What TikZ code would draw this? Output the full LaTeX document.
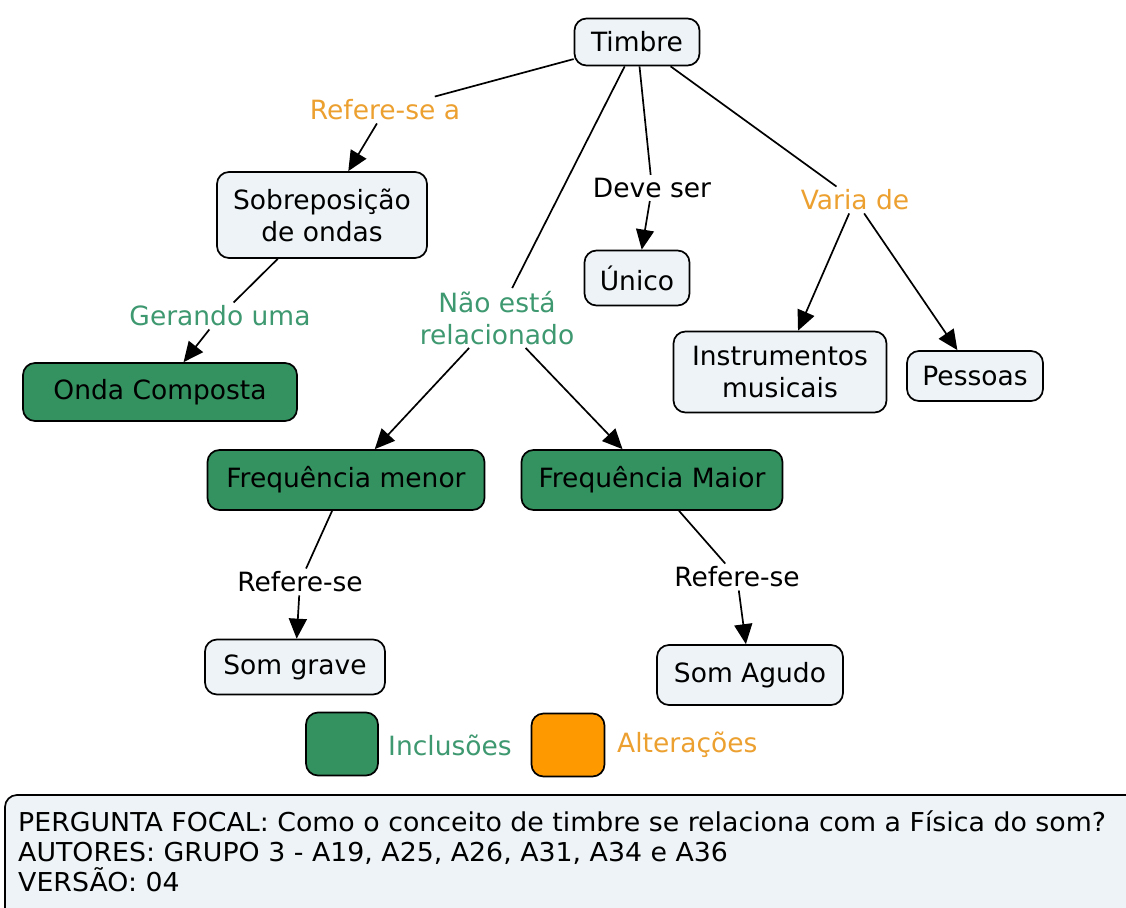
\documentclass[tikz,border=0pt]{standalone}
\usepackage{fontspec}
\setmainfont{DejaVu Sans}
\usepackage{graphicx}
\usetikzlibrary{arrows.meta}
\definecolor{conceptbg}{RGB}{237,243,246}
\definecolor{incgreen}{RGB}{52,145,96}
\definecolor{altorange}{RGB}{255,153,0}
\definecolor{labgreen}{RGB}{62,152,112}
\definecolor{laborange}{RGB}{236,160,48}
\newcommand{\squeeze}[1]{\scalebox{1.03}[1]{#1}}
\begin{document}
\begin{tikzpicture}[x=1pt,y=-1pt,
  concept/.style={draw=black, line width=1.7pt, rounded corners=12pt, fill=conceptbg,
    align=center, inner sep=0pt, font=\fontsize{26.5}{32}\selectfont},
  included/.style={concept, fill=incgreen},
  changed/.style={concept, fill=altorange},
  linklabel/.style={align=center, inner sep=3pt, font=\fontsize{26.5}{32}\selectfont},
  link/.style={line width=1.7pt},
  arrowlink/.style={link, -{Triangle[length=20pt,width=18pt]}}]
\useasboundingbox (0,0) rectangle (1126,907);
\node[concept, minimum width=125pt, minimum height=47pt] (timbre) at (637,42) {Timbre};
\node[concept, minimum width=210pt, minimum height=86pt] (sobrepos) at (322,215) {Sobreposição\\de ondas};
\node[included, minimum width=274pt, minimum height=58pt] (ondacomp) at (160,392) {Onda Composta};
\node[included, minimum width=277pt, minimum height=60pt] (freqmenor) at (346,480) {Frequência menor};
\node[included, minimum width=261pt, minimum height=60pt] (freqmaior) at (652,480) {Frequência Maior};
\node[concept, minimum width=105pt, minimum height=55pt] (unico) at (637,278) {Único};
\node[concept, minimum width=213pt, minimum height=81pt] (instr) at (780,372) {Instrumentos\\musicais};
\node[concept, minimum width=136pt, minimum height=50pt] (pessoas) at (975,376) {Pessoas};
\node[concept, minimum width=180pt, minimum height=55pt] (somgrave) at (295,667) {Som grave};
\node[concept, minimum width=186pt, minimum height=60pt] (somagudo) at (750,675) {Som Agudo};
% frases de ligacao
\node[linklabel, text=laborange] (refa) at (385,110) {Refere-se a};
\node[linklabel, text=labgreen] (gerando) at (220,316) {Gerando uma};
\node[linklabel, text=labgreen] (naorel) at (497,318) {Não está\\relacionado};
\node[linklabel] (deveser) at (652,188) {Deve ser};
\node[linklabel, text=laborange] (varia) at (855,200) {Varia de};
\node[linklabel] (refmenor) at (300,582) {Refere-se};
\node[linklabel] (refmaior) at (737,577) {Refere-se};
\draw[link] (timbre) -- (refa);
\draw[arrowlink] (refa) -- (sobrepos);
\draw[link] (sobrepos) -- (gerando);
\draw[arrowlink] (gerando) -- (ondacomp);
\draw[link] (timbre) -- (naorel);
\draw[arrowlink] (naorel) -- (freqmenor);
\draw[arrowlink] (naorel) -- (freqmaior);
\draw[link] (timbre) -- (deveser);
\draw[arrowlink] (deveser) -- (unico);
\draw[link] (timbre) -- (varia);
\draw[arrowlink] (varia) -- (instr);
\draw[arrowlink] (varia) -- (pessoas);
\draw[link] (freqmenor) -- (refmenor);
\draw[arrowlink] (refmenor) -- (somgrave);
\draw[link] (freqmaior) -- (refmaior);
\draw[arrowlink] (refmaior) -- (somagudo);
% legenda
\node[included, minimum width=72pt, minimum height=63pt] (incbox) at (342,744) {};
\node[linklabel, text=labgreen, anchor=west, inner sep=0pt] (inctext) at (388,745) {Inclusões};
\node[changed, minimum width=73pt, minimum height=63pt] (altbox) at (568,745) {};
\node[linklabel, text=laborange, anchor=west, inner sep=0pt] (alttext) at (617,745) {Alterações};
% pergunta focal
\draw[line width=1.7pt, rounded corners=12pt, fill=conceptbg] (5,795) rectangle (1140,920);
\node[anchor=west, align=left, inner sep=0pt, font=\fontsize{26}{30}\selectfont] (focal) at (18,851)
  {\squeeze{PERGUNTA FOCAL: Como o conceito de timbre se relaciona com a Física do som?}\\
   \squeeze{AUTORES: GRUPO 3 - A19, A25, A26, A31, A34 e A36}\\
   \squeeze{VERSÃO: 04}};
\end{tikzpicture}
\end{document}
